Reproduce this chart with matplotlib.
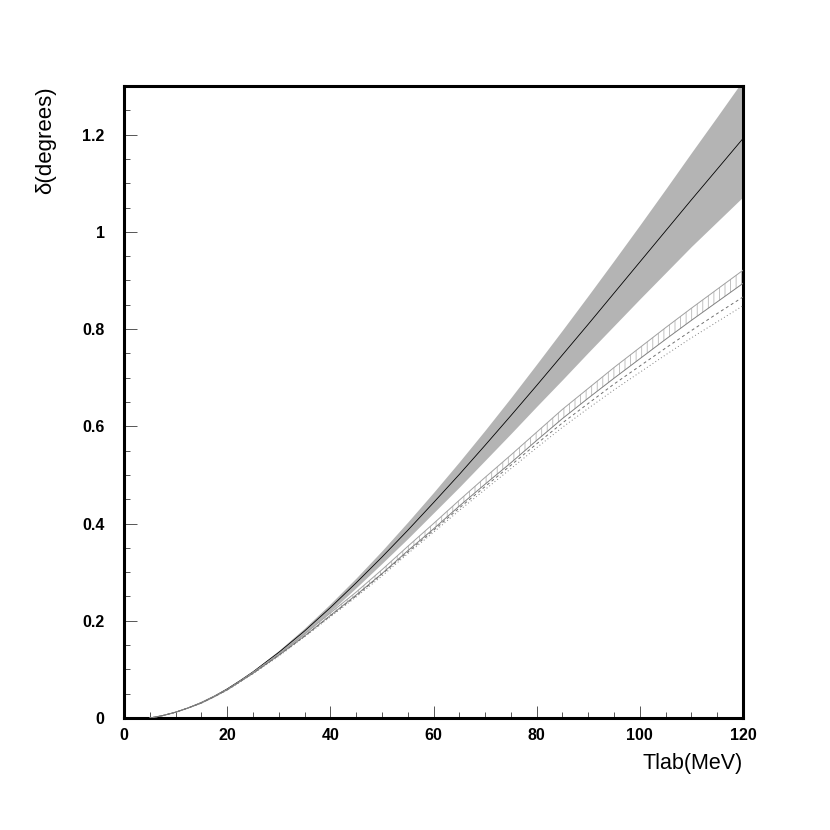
import matplotlib
matplotlib.use("Agg")
import matplotlib.pyplot as plt
from matplotlib.ticker import MultipleLocator

# ---- data ----
T = [5, 7.5, 10, 12.5, 15, 17.5, 20, 22.5, 25, 30, 35, 40, 45, 50, 55, 60,
     65, 70, 75, 80, 85, 90, 95, 100, 105, 110, 115, 120]

gray_mid = [0.000, 0.005, 0.012, 0.021, 0.032, 0.045, 0.060, 0.077, 0.095, 0.135, 0.179, 0.227,
            0.278, 0.331, 0.386, 0.443,
            0.501, 0.561, 0.622, 0.684, 0.747, 0.810, 0.874, 0.938, 1.002, 1.066, 1.129, 1.192]
gray_hi = [0.000, 0.005, 0.012, 0.021, 0.033, 0.046, 0.061, 0.078, 0.097, 0.139, 0.185, 0.235,
           0.288, 0.344, 0.403, 0.464,
           0.527, 0.592, 0.659, 0.728, 0.798, 0.869, 0.941, 1.014, 1.088, 1.163, 1.237, 1.312]
gray_lo = [0.000, 0.005, 0.012, 0.021, 0.031, 0.044, 0.059, 0.076, 0.093, 0.131, 0.173, 0.219,
           0.268, 0.318, 0.369, 0.422,
           0.475, 0.530, 0.585, 0.641, 0.696, 0.752, 0.807, 0.862, 0.916, 0.970, 1.021, 1.072]

hatch_hi = [0.000, 0.005, 0.012, 0.021, 0.032, 0.045, 0.059, 0.076, 0.094, 0.132, 0.173, 0.216,
            0.259, 0.305, 0.353, 0.400,
            0.448, 0.495, 0.541, 0.588, 0.635, 0.678, 0.721, 0.762, 0.803, 0.843, 0.882, 0.921]
hatch_lo = [0.000, 0.005, 0.012, 0.021, 0.031, 0.044, 0.058, 0.075, 0.092, 0.129, 0.169, 0.211,
            0.253, 0.297, 0.344, 0.389,
            0.436, 0.481, 0.525, 0.571, 0.616, 0.658, 0.699, 0.739, 0.779, 0.818, 0.856, 0.894]

dashed = [0.000, 0.005, 0.012, 0.021, 0.031, 0.044, 0.058, 0.075, 0.092, 0.129, 0.168, 0.210,
          0.251, 0.296, 0.341, 0.386,
          0.432, 0.476, 0.520, 0.564, 0.607, 0.647, 0.687, 0.724, 0.761, 0.797, 0.832, 0.866]
dotted = [0.000, 0.005, 0.012, 0.021, 0.031, 0.044, 0.057, 0.074, 0.091, 0.127, 0.167, 0.208,
          0.249, 0.292, 0.338, 0.382,
          0.427, 0.470, 0.513, 0.556, 0.598, 0.637, 0.675, 0.711, 0.747, 0.782, 0.815, 0.848]

x_ticks = [0, 20, 40, 60, 80, 100, 120]
x_ticklabels = ["0", "20", "40", "60", "80", "100", "120"]
y_ticks = [0, 0.2, 0.4, 0.6, 0.8, 1.0, 1.2]
y_ticklabels = ["0", "0.2", "0.4", "0.6", "0.8", "1", "1.2"]

# ---- plot ----
plt.rcParams['font.family'] = ['Liberation Sans', 'DejaVu Sans']
plt.rcParams['hatch.linewidth'] = 0.6
plt.rcParams['hatch.color'] = '#b8b8b8'

fig = plt.figure(figsize=(8.3, 8.3), dpi=100)
ax = fig.add_axes([0.1494, 0.1349, 0.7458, 0.7615])

ax.fill_between(T, gray_lo, gray_hi, color='#b4b4b4', linewidth=0, zorder=1)
ax.plot(T, gray_mid, color='black', linewidth=0.6, zorder=3)

ax.fill_between(T, hatch_lo, hatch_hi, facecolor='none', edgecolor='#b8b8b8',
                hatch='|||', linewidth=0, zorder=2)
ax.plot(T, hatch_hi, color='#a0a0a0', linewidth=0.7, zorder=3)
ax.plot(T, hatch_lo, color='#808080', linewidth=0.7, zorder=3)
ax.plot(T, dashed, color='#707070', linewidth=0.7, dashes=(3, 3), zorder=3)
ax.plot(T, dotted, color='#808080', linewidth=0.7, dashes=(1, 2.5), zorder=3)

ax.set_xlim(0, 120)
ax.set_ylim(0, 1.3)
ax.set_xticks(x_ticks)
ax.set_xticklabels(x_ticklabels, fontweight='bold', fontsize=11.5)
ax.set_yticks(y_ticks)
ax.set_yticklabels(y_ticklabels, fontweight='bold', fontsize=11.5)
ax.xaxis.set_minor_locator(MultipleLocator(5))
ax.yaxis.set_minor_locator(MultipleLocator(0.05))
ax.tick_params(which='both', direction='in', top=False, right=False, color='#555555', width=0.7)
ax.tick_params(which='major', length=9)
ax.tick_params(which='minor', length=4.5)
ax.tick_params(axis='x', which='major', pad=7)
ax.tick_params(axis='y', which='major', pad=14)

for s in ax.spines.values():
    s.set_linewidth(2.2)
    s.set_color('black')

fig.text(0.8952, 0.0805, "Tlab(MeV)", ha='right', va='center', fontsize=15.5)
fig.text(0.0555, 0.8964, "δ(degrees)", ha='center', va='top', rotation=90, fontsize=16)

fig.savefig("out.png", dpi=100, facecolor='white')
